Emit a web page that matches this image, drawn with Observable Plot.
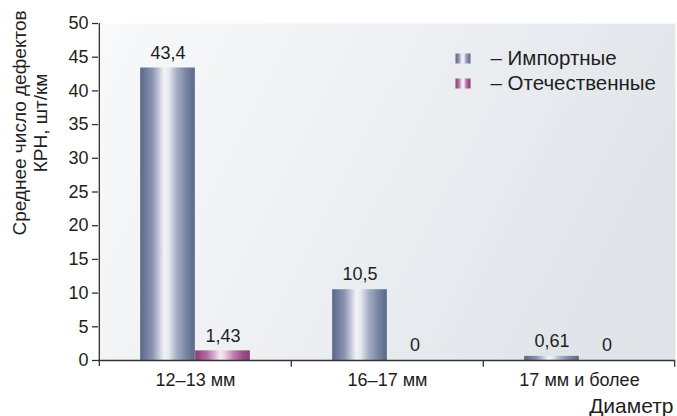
<!DOCTYPE html>
<html>
<head>
<meta charset="utf-8">
<script src="https://cdn.jsdelivr.net/npm/d3@7"></script>
<script src="https://cdn.jsdelivr.net/npm/@observablehq/plot@0.6"></script>
<style>
  html, body { margin: 0; padding: 0; background: #fff; }
</style>
</head>
<body>
<div id="chart"></div>
<script>
// Среднее число дефектов КРН по диаметру труб
const categories = ["12–13 мм", "16–17 мм", "17 мм и более"];
const importValues = [43.4, 10.5, 0.61];
const domesticValues = [1.43, 0, 0];
const seriesNames = ["Импортные", "Отечественные"];
const yTicks = [0, 5, 10, 15, 20, 25, 30, 35, 40, 45, 50];
const yTitleLines = ["Среднее число дефектов", "КРН, шт/км"];
const xTitle = "Диаметр";

const rows = categories.flatMap((c, i) => [
  {category: c, series: seriesNames[0], value: importValues[i]},
  {category: c, series: seriesNames[1], value: domesticValues[i]}
]);
const impRows = rows.filter(d => d.series === seriesNames[0]);
const domRows = rows.filter(d => d.series === seriesNames[1]);
const fills = {[seriesNames[0]]: "url(#grad-imp)", [seriesNames[1]]: "url(#grad-dom)"};

const W = 677, H = 416;
const mL = 98, mR = 2, mT = 23, mB = 56;
const bw = (W - mL - mR) / categories.length; // band width per category
const barW = 55;
const axisColor = "#333";
const textColor = "#1e1e1e";
const fmt = v => String(v).replace(".", ",");

// two small bars as the legend swatch
const swatch = {
  draw(ctx) {
    ctx.rect(-8, -5, 6, 10);
    ctx.rect(1, -5, 6, 10);
  }
};

const legendMarks = seriesNames.flatMap((name, i) => [
  Plot.dot([name], {x: null, y: null, frameAnchor: "top-left", dx: 365, dy: 35 + 25 * i,
    symbol: swatch, fill: fills[name], stroke: null}),
  Plot.text([name], {frameAnchor: "top-left", dx: 392, dy: 35 + 25 * i, text: d => "– " + d,
    textAnchor: "start", lineAnchor: "middle", fontSize: 20.5, fill: textColor})
]);

const chart = Plot.plot({
  width: W,
  height: H,
  marginLeft: mL,
  marginRight: mR,
  marginTop: mT,
  marginBottom: mB,
  style: {fontFamily: "'Liberation Sans', Arial, sans-serif", fontSize: "18px", color: textColor, background: "#fff"},
  x: {domain: categories, padding: 0, axis: null},
  y: {domain: [0, 50], axis: null},
  marks: [
    Plot.frame({fill: "url(#grad-bg)", stroke: null}),
    Plot.barY(impRows, {x: "category", y: "value", fill: fills[seriesNames[0]],
      insetLeft: bw / 2 - barW, insetRight: bw / 2}),
    Plot.barY(domRows, {x: "category", y: "value", fill: fills[seriesNames[1]],
      insetLeft: bw / 2, insetRight: bw / 2 - barW}),
    Plot.text(impRows, {x: "category", y: "value", text: d => fmt(d.value),
      dx: -barW / 2, dy: -15, fill: textColor}),
    Plot.text(domRows, {x: "category", y: "value", text: d => fmt(d.value),
      dx: barW / 2, dy: -15, fill: textColor}),
    // axes lines and category boundary ticks
    Plot.ruleY([0], {stroke: axisColor, strokeWidth: 1.3}),
    Plot.ruleX([categories[0]], {dx: -bw / 2, y1: -0.9, y2: 50, stroke: axisColor, strokeWidth: 1.3}),
    Plot.ruleX(categories.slice(1), {dx: -bw / 2, y1: -1, y2: 0, stroke: axisColor, strokeWidth: 1.3}),
    Plot.ruleX(categories.slice(-1), {dx: bw / 2 - 1, y1: -1, y2: 0, stroke: axisColor, strokeWidth: 1.3}),
    Plot.axisY({ticks: yTicks, tickSize: 6, tickPadding: 4, label: null, stroke: axisColor, strokeWidth: 1.3}),
    Plot.axisX({tickSize: 0, tickPadding: 13, label: null}),
    Plot.text([yTitleLines.join("\n")], {frameAnchor: "left", rotate: -90, dx: -69, dy: -69,
      textAnchor: "middle", lineAnchor: "middle", lineHeight: 1.15, fontSize: 19, fill: textColor}),
    Plot.text([xTitle], {frameAnchor: "bottom-right", dx: -2, dy: 46, textAnchor: "end",
      lineAnchor: "middle", fontSize: 21, fill: textColor}),
    ...legendMarks
  ]
});

// gradient definitions used by the fills above
const defs = d3.select(chart).insert("defs", ":first-child");
function grad(id, stops, x2 = "100%", y2 = "0%") {
  const g = defs.append("linearGradient").attr("id", id)
    .attr("x1", "0%").attr("y1", "0%").attr("x2", x2).attr("y2", y2);
  stops.forEach(([o, c]) => g.append("stop").attr("offset", o).attr("stop-color", c));
}
grad("grad-imp", [["0", "#5a678b"], ["0.22", "#8993b1"], ["0.44", "#f2f3f7"], ["0.52", "#e6e9f0"],
  ["0.66", "#a9b1c7"], ["0.85", "#77829f"], ["1", "#5a678b"]]);
grad("grad-dom", [["0", "#8a3a76"], ["0.22", "#b46fa3"], ["0.46", "#f6e7f1"], ["0.54", "#ecd3e4"],
  ["0.7", "#c07fb0"], ["0.88", "#9a4a87"], ["1", "#8a3a76"]]);
grad("grad-bg", [["0", "#f8f9fa"], ["0.5", "#eef0f3"], ["1", "#e1e5e9"]], "100%", "30%");

document.getElementById("chart").appendChild(chart);
</script>
</body>
</html>
